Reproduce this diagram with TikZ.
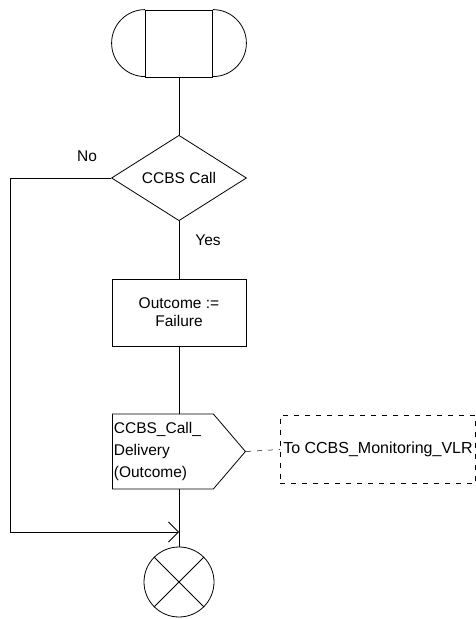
\documentclass[tikz,border=0pt]{standalone}
\usepackage{fontspec}
\setmainfont{Liberation Sans}
\usetikzlibrary{arrows.meta,positioning,calc,shapes.geometric,shapes.symbols}
\tikzset{
  every picture/.append style={font=\fontsize{15.5}{18}\selectfont, line width=0.8pt},
  sdl/.style={draw, inner sep=2pt, align=center},
  term/.style={sdl, rectangle, minimum width=67pt, minimum height=67pt},
  dec/.style={sdl, diamond, inner sep=0pt, minimum width=135pt, minimum height=68pt},
  task/.style={sdl, rectangle, minimum width=134pt, minimum height=67pt},
  outsig/.style={draw, signal, signal to=east, signal from=nowhere, signal pointer angle=99,
                 minimum width=133pt, minimum height=75pt, text width=98pt, align=left,
                 inner sep=1pt, font=\fontsize{15.5}{22}\selectfont},
  cmt/.style={draw, dashed, dash pattern=on 5pt off 6pt, line width=0.5pt, anchor=west,
              minimum height=68pt, inner sep=3pt, font=\fontsize{16}{20}\selectfont},
  stopsym/.style={draw, circle, minimum size=70pt, inner sep=0pt},
  lbl/.style={inner sep=0pt},
  flow/.style={draw},
  loopflow/.style={-{Straight Barb[length=10pt,width=20pt]}},
}
\begin{document}
\begin{tikzpicture}[x=1pt,y=1pt]
\useasboundingbox (0,0) rectangle (475,619);

% ---------------- symbols, top to bottom ----------------
\node[term] (strt) at (179,575.5) {};
\draw (strt.north west) arc[start angle=90, end angle=270, radius=33.5pt];
\draw (strt.north east) arc[start angle=90, end angle=-90, radius=33.5pt];

\node[dec] (call) at (179,441) {CCBS Call};
\node[lbl] (no) at (87,463) {No};
\node[lbl] (yes) at (208,379) {Yes};

\node[task] (asgn) at (179,306.5) {Outcome :=\\Failure};

\node[outsig, anchor=west] (deliv) at (112,167.5) {CCBS\_Call\_\\Delivery\\(Outcome)};
\node[cmt] (vlr) at (280,169.5) {To CCBS\_Monitoring\_VLR\hspace{20pt}};

\node[stopsym] (stop) at (179,37) {};
\draw (stop.north east) -- (stop.south west);
\draw (stop.north west) -- (stop.south east);
\coordinate (mrg) at (179,87);
\coordinate (lpa) at (10,441);
\coordinate (lpb) at (10,87);

% ---------------- connectors ----------------
\draw[flow] (strt.south) -- (call.north);
\draw[flow] (call.south) -- (asgn.north);
\draw[flow] (asgn.south) -- (deliv.north -| asgn.south);
\draw[flow] (deliv.south -| asgn.south) -- (stop.north);
\draw[dashed, dash pattern=on 5pt off 6pt, line width=0.5pt] (deliv.east) -- (vlr.west);
% no branch back round to the stop
\draw (call.west) -- (lpa) -- (lpb);
\draw[loopflow] (lpb) -- (mrg);

\end{tikzpicture}
\end{document}
